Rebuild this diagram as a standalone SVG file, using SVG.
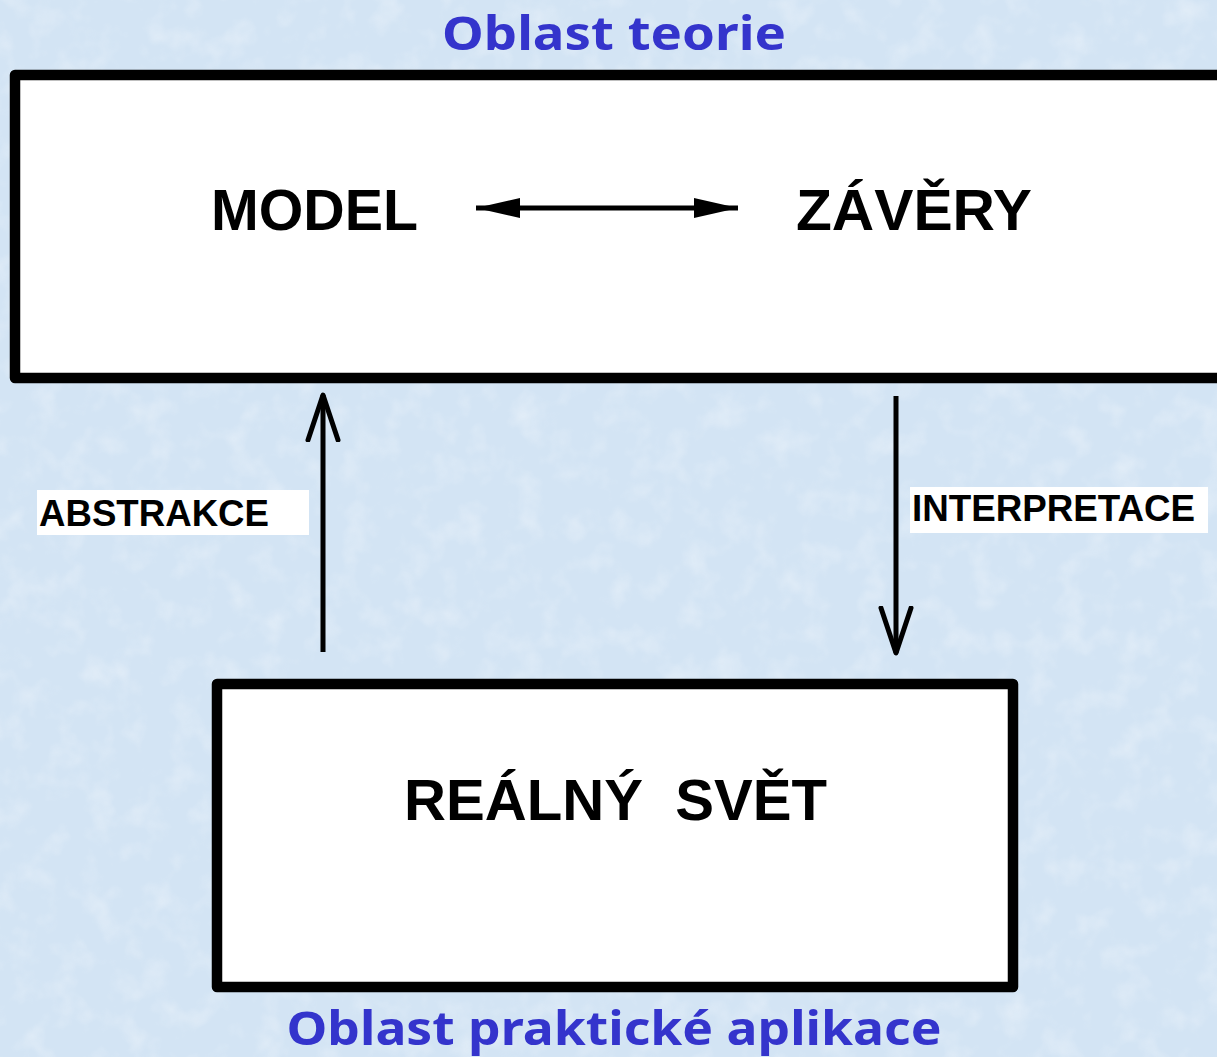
<svg xmlns="http://www.w3.org/2000/svg" width="1217" height="1057" viewBox="0 0 1217 1057">
  <defs>
    <filter id="paper" x="0" y="0" width="100%" height="100%">
      <feTurbulence type="fractalNoise" baseFrequency="0.035" numOctaves="3" seed="7" result="n"/>
      <feColorMatrix in="n" type="matrix" values="0 0 0 0 1  0 0 0 0 1  0 0 0 0 1  0 0 0 1.6 -0.75" result="spots"/>
      <feComposite in="spots" in2="SourceGraphic" operator="in"/>
    </filter>
    <marker id="headFill" viewBox="0 0 44 20" refX="44" refY="10" markerWidth="44" markerHeight="20" markerUnits="userSpaceOnUse" orient="auto-start-reverse">
      <path d="M0,0 L44,10 L0,20 Z" fill="#000"/>
    </marker>
    <marker id="headOpen" viewBox="0 0 50 36" refX="47" refY="18" markerWidth="50" markerHeight="36" markerUnits="userSpaceOnUse" orient="auto">
      <path d="M2,3 L47,18 L2,33" fill="none" stroke="#000" stroke-width="5" stroke-linejoin="round" stroke-linecap="round"/>
    </marker>
  </defs>
  <style>
    .title { font-family: "Noto Sans", "DejaVu Sans", sans-serif; font-weight: bold; fill: #3434cc; }
    .box { fill: #ffffff; stroke: #000; stroke-width: 10.5; stroke-linejoin: round; }
    .big { font-family: "Liberation Sans", Arial, sans-serif; font-weight: bold; font-size: 57px; fill: #000; }
    .lbl { font-family: "Liberation Sans", Arial, sans-serif; font-weight: bold; font-size: 36px; fill: #000; }
    .conn { stroke: #000; stroke-width: 5; fill: none; }
  </style>

  <!-- background -->
  <rect x="0" y="0" width="1217" height="1057" fill="#d3e4f4"/>
  <rect x="0" y="0" width="1217" height="1057" fill="#eef5fc" filter="url(#paper)" opacity="0.4"/>

  <text class="title" x="614" y="50" font-size="46" text-anchor="middle" textLength="344" lengthAdjust="spacingAndGlyphs">Oblast teorie</text>

  <g id="teorie">
    <rect class="box" x="15" y="75" width="1230" height="303"/>
    <text class="big" x="211" y="230" textLength="207" lengthAdjust="spacingAndGlyphs">MODEL</text>
    <text class="big" x="796" y="230" textLength="236" lengthAdjust="spacingAndGlyphs">ZÁVĚRY</text>
  </g>

  <g id="realny-svet">
    <rect class="box" x="217" y="684" width="796" height="303"/>
    <text class="big" x="404" y="820" textLength="423" lengthAdjust="spacingAndGlyphs" xml:space="preserve">REÁLNÝ  SVĚT</text>
  </g>

  <g id="connectors">
    <line class="conn" x1="476" y1="208" x2="738" y2="208" marker-start="url(#headFill)" marker-end="url(#headFill)"/>
    <line class="conn" x1="323" y1="652" x2="323" y2="395" marker-end="url(#headOpen)"/>
    <line class="conn" x1="896" y1="396" x2="896" y2="653" marker-end="url(#headOpen)"/>
  </g>

  <g id="abstrakce">
    <rect x="37" y="490" width="272" height="45" fill="#fff"/>
    <text class="lbl" x="39" y="526" textLength="230" lengthAdjust="spacingAndGlyphs">ABSTRAKCE</text>
  </g>

  <g id="interpretace">
    <rect x="910" y="487" width="298" height="46" fill="#fff"/>
    <text class="lbl" x="912" y="521" textLength="283" lengthAdjust="spacingAndGlyphs">INTERPRETACE</text>
  </g>

  <text class="title" x="614" y="1045" font-size="46" text-anchor="middle" textLength="655" lengthAdjust="spacingAndGlyphs">Oblast praktické aplikace</text>
</svg>
